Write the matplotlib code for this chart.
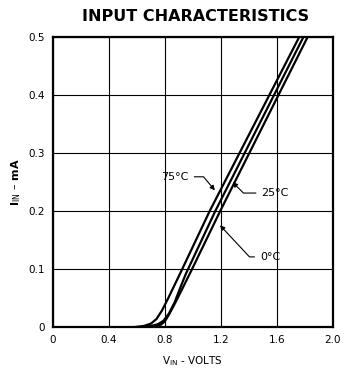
import matplotlib
matplotlib.use('Agg')
import matplotlib.pyplot as plt

# input current (mA) vs input voltage (V)
v_75 = [0.0, 0.58, 0.65, 0.70, 0.74, 0.78, 0.82, 0.86, 0.91, 1.12, 1.76, 1.82]
i_75 = [0, 0, 0.002, 0.006, 0.014, 0.029, 0.048, 0.068, 0.093, 0.200, 0.500, 0.530]
v_25 = [0.0, 0.63, 0.70, 0.75, 0.79, 0.83, 0.87, 0.91, 0.95, 1.16, 1.79, 1.85]
i_25 = [0, 0, 0.002, 0.005, 0.011, 0.024, 0.043, 0.068, 0.092, 0.200, 0.500, 0.530]
v_0 = [0.0, 0.68, 0.73, 0.77, 0.80, 0.83, 0.87, 0.92, 0.99, 1.195, 1.82, 1.88]
i_0 = [0, 0, 0.001, 0.004, 0.010, 0.022, 0.040, 0.064, 0.098, 0.200, 0.500, 0.530]

x_ticks = [0, 0.4, 0.8, 1.2, 1.6, 2.0]
x_labels = ['0', '0.4', '0.8', '1.2', '1.6', '2.0']
y_ticks = [0, 0.1, 0.2, 0.3, 0.4, 0.5]
y_labels = ['0', '0.1', '0.2', '0.3', '0.4', '0.5']

fig = plt.figure(figsize=(3.46, 3.73), dpi=100)
ax = fig.add_axes([0.153, 0.123, 0.809, 0.778])

for v, i in [(v_75, i_75), (v_25, i_25), (v_0, i_0)]:
    ax.plot(v, i, color='black', lw=1.6, solid_capstyle='butt')

ax.set_xlim(0, 2.0)
ax.set_ylim(0, 0.5)
ax.set_xticks(x_ticks)
ax.set_xticklabels(x_labels, fontsize=7.5)
ax.set_yticks(y_ticks)
ax.set_yticklabels(y_labels, fontsize=7.5)
ax.tick_params(length=0, pad=6)
ax.grid(True, color='black', lw=0.8)
for s in ax.spines.values():
    s.set_linewidth(1.6)

arrow = dict(arrowstyle='-|>', color='black', lw=0.8, mutation_scale=7)

ax.annotate('75°C', xy=(1.17, 0.232), xytext=(0.97, 0.259), ha='right', va='center',
            fontsize=8,
            arrowprops=dict(arrow, connectionstyle='angle,angleA=0,angleB=130'))
ax.annotate('25°C', xy=(1.27, 0.253), xytext=(1.49, 0.231), ha='left', va='center',
            fontsize=8,
            arrowprops=dict(arrow, connectionstyle='angle,angleA=180,angleB=135'))
ax.annotate('0°C', xy=(1.18, 0.179), xytext=(1.48, 0.121), ha='left', va='center',
            fontsize=8,
            arrowprops=dict(arrow, connectionstyle='angle,angleA=180,angleB=133'))

ax.set_xlabel('V$_{\\rm IN}$ - VOLTS', fontsize=7.5, labelpad=6)
ax.set_ylabel('I$_{\\rm IN}$ – mA', fontsize=8, fontweight='bold', labelpad=4)

fig.text(0.565, 0.955, 'INPUT CHARACTERISTICS', ha='center', va='center',
         fontsize=11.5, fontweight='bold')

fig.savefig('out.png', dpi=100)
